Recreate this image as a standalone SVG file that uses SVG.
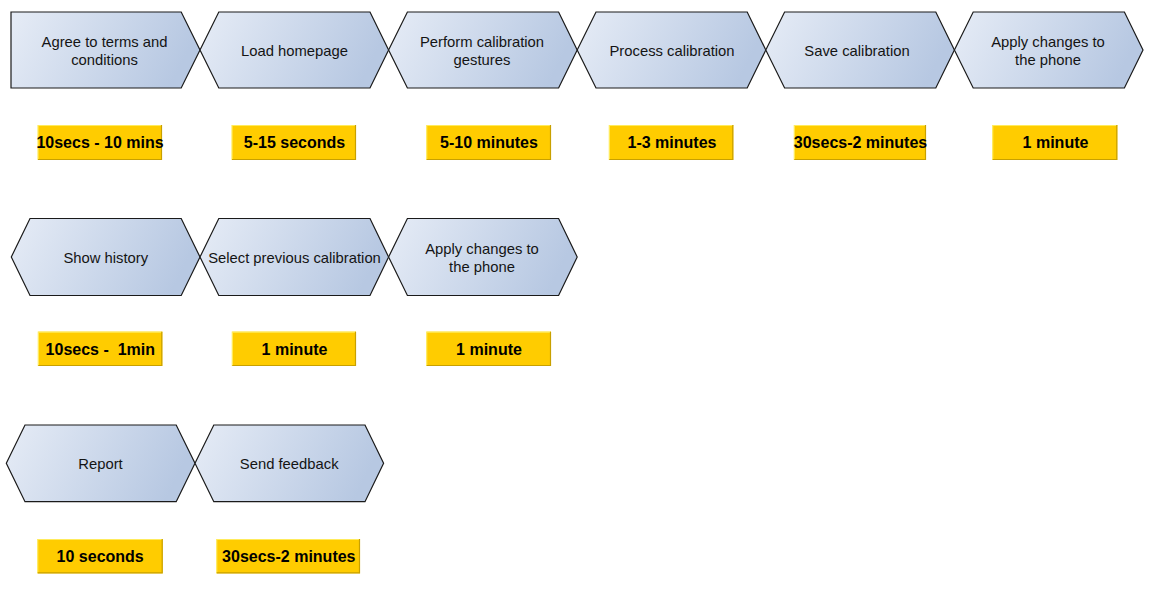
<svg xmlns="http://www.w3.org/2000/svg" width="1151" height="589" viewBox="0 0 1151 589">
<defs>
<linearGradient id="g" x1="0" y1="0" x2="1" y2="0.2">
<stop offset="0" stop-color="#E6ECF6"/>
<stop offset="1" stop-color="#B7C8E2"/>
</linearGradient>
</defs>
<style>
.s{fill:url(#g);stroke:#1a1a1a;stroke-width:1.2;stroke-linejoin:miter}
.t{font-family:"Liberation Sans",Arial,sans-serif;font-size:14.8px;fill:#141414;text-anchor:middle}
.b{fill:#FFCC00}
.hl{stroke:#FFEB5C;stroke-width:1.2;fill:none}
.sh{stroke:#C8A000;stroke-width:1.2;fill:none}
.l{font-family:"Liberation Sans",Arial,sans-serif;font-size:16px;font-weight:bold;fill:#000;text-anchor:middle;white-space:pre}
</style>
<rect width="1151" height="589" fill="#fff"/>
<g id="connectors"/>

<!-- Row 1 -->
<g id="n1">
<polygon class="s" points="11,12 181.2,12 200,50 181.2,88 11,88"/>
<text class="t" x="104.5" y="47">Agree to terms and</text>
<text class="t" x="104.5" y="64.5">conditions</text>
</g>
<g id="n2">
<polygon class="s" points="200,50 218.8,12 370,12 388.6,50 370,88 218.8,88"/>
<text class="t" x="294.5" y="56">Load homepage</text>
</g>
<g id="n3">
<polygon class="s" points="388.6,50 407.4,12 558.6,12 577.2,50 558.6,88 407.4,88"/>
<text class="t" x="482" y="47">Perform calibration</text>
<text class="t" x="482" y="64.5">gestures</text>
</g>
<g id="n4">
<polygon class="s" points="577.2,50 596,12 747.2,12 765.8,50 747.2,88 596,88"/>
<text class="t" x="672" y="56">Process calibration</text>
</g>
<g id="n5">
<polygon class="s" points="765.8,50 784.6,12 935.8,12 954.4,50 935.8,88 784.6,88"/>
<text class="t" x="857" y="56">Save calibration</text>
</g>
<g id="n6">
<polygon class="s" points="954.4,50 973.2,12 1124.4,12 1143,50 1124.4,88 973.2,88"/>
<text class="t" x="1048" y="47">Apply changes to</text>
<text class="t" x="1048" y="64.5">the phone</text>
</g>

<!-- Row 1 labels -->
<g id="l1">
<rect class="b" x="38" y="125" width="124" height="35"/>
<path class="hl" d="M38,160 V125.5 H162"/><path class="sh" d="M161.5,125 V159.5 H38"/>
<text class="l" x="100" y="148">10secs - 10 mins</text>
</g>
<g id="l2">
<rect class="b" x="232" y="125" width="124" height="35"/>
<path class="hl" d="M232,160 V125.5 H356"/><path class="sh" d="M355.5,125 V159.5 H232"/>
<text class="l" x="294.5" y="148">5-15 seconds</text>
</g>
<g id="l3">
<rect class="b" x="426.7" y="125" width="124.3" height="35"/>
<path class="hl" d="M426.7,160 V125.5 H551"/><path class="sh" d="M550.5,125 V159.5 H426.7"/>
<text class="l" x="489" y="148">5-10 minutes</text>
</g>
<g id="l4">
<rect class="b" x="609.3" y="125" width="124" height="35"/>
<path class="hl" d="M609.3,160 V125.5 H733.3"/><path class="sh" d="M732.8,125 V159.5 H609.3"/>
<text class="l" x="672" y="148">1-3 minutes</text>
</g>
<g id="l5">
<rect class="b" x="794.3" y="125" width="131.7" height="35"/>
<path class="hl" d="M794.3,160 V125.5 H926"/><path class="sh" d="M925.5,125 V159.5 H794.3"/>
<text class="l" x="860.5" y="148">30secs-2 minutes</text>
</g>
<g id="l6">
<rect class="b" x="992.7" y="125" width="124.6" height="35"/>
<path class="hl" d="M992.7,160 V125.5 H1117.3"/><path class="sh" d="M1116.8,125 V159.5 H992.7"/>
<text class="l" x="1055.5" y="148">1 minute</text>
</g>

<!-- Row 2 -->
<g id="n7">
<polygon class="s" points="11.3,257 30,218.5 181.2,218.5 200,257 181.2,295.5 30,295.5"/>
<text class="t" x="105.8" y="262.5">Show history</text>
</g>
<g id="n8">
<polygon class="s" points="200,257 218.8,218.5 370,218.5 388.6,257 370,295.5 218.8,295.5"/>
<text class="t" x="294.5" y="262.5">Select previous calibration</text>
</g>
<g id="n9">
<polygon class="s" points="388.6,257 407.4,218.5 558.6,218.5 577.2,257 558.6,295.5 407.4,295.5"/>
<text class="t" x="482" y="253.5">Apply changes to</text>
<text class="t" x="482" y="272">the phone</text>
</g>

<!-- Row 2 labels -->
<g id="l7">
<rect class="b" x="38.3" y="331.7" width="124" height="34.3"/>
<path class="hl" d="M38.3,366 V332.2 H162.3"/><path class="sh" d="M161.8,331.7 V365.5 H38.3"/>
<text class="l" x="100.3" y="354.6" xml:space="preserve">10secs -  1min</text>
</g>
<g id="l8">
<rect class="b" x="232.3" y="331.7" width="123.7" height="34.3"/>
<path class="hl" d="M232.3,366 V332.2 H356"/><path class="sh" d="M355.5,331.7 V365.5 H232.3"/>
<text class="l" x="294.5" y="354.6">1 minute</text>
</g>
<g id="l9">
<rect class="b" x="426.7" y="331.7" width="124.3" height="34.3"/>
<path class="hl" d="M426.7,366 V332.2 H551"/><path class="sh" d="M550.5,331.7 V365.5 H426.7"/>
<text class="l" x="489" y="354.6">1 minute</text>
</g>

<!-- Row 3 -->
<g id="n10">
<polygon class="s" points="6.3,463.3 25,425 176.2,425 195,463.3 176.2,501.7 25,501.7"/>
<text class="t" x="100.5" y="469">Report</text>
</g>
<g id="n11">
<polygon class="s" points="195,463.3 213.8,425 365,425 383.6,463.3 365,501.7 213.8,501.7"/>
<text class="t" x="289.2" y="469">Send feedback</text>
</g>

<!-- Row 3 labels -->
<g id="l10">
<rect class="b" x="37.7" y="539" width="125" height="34.3"/>
<path class="hl" d="M37.7,573.3 V539.5 H162.7"/><path class="sh" d="M162.2,539 V572.8 H37.7"/>
<text class="l" x="100.2" y="561.8">10 seconds</text>
</g>
<g id="l11">
<rect class="b" x="216.7" y="539" width="143.3" height="34.3"/>
<path class="hl" d="M216.7,573.3 V539.5 H360"/><path class="sh" d="M359.5,539 V572.8 H216.7"/>
<text class="l" x="288.8" y="561.8">30secs-2 minutes</text>
</g>
</svg>
